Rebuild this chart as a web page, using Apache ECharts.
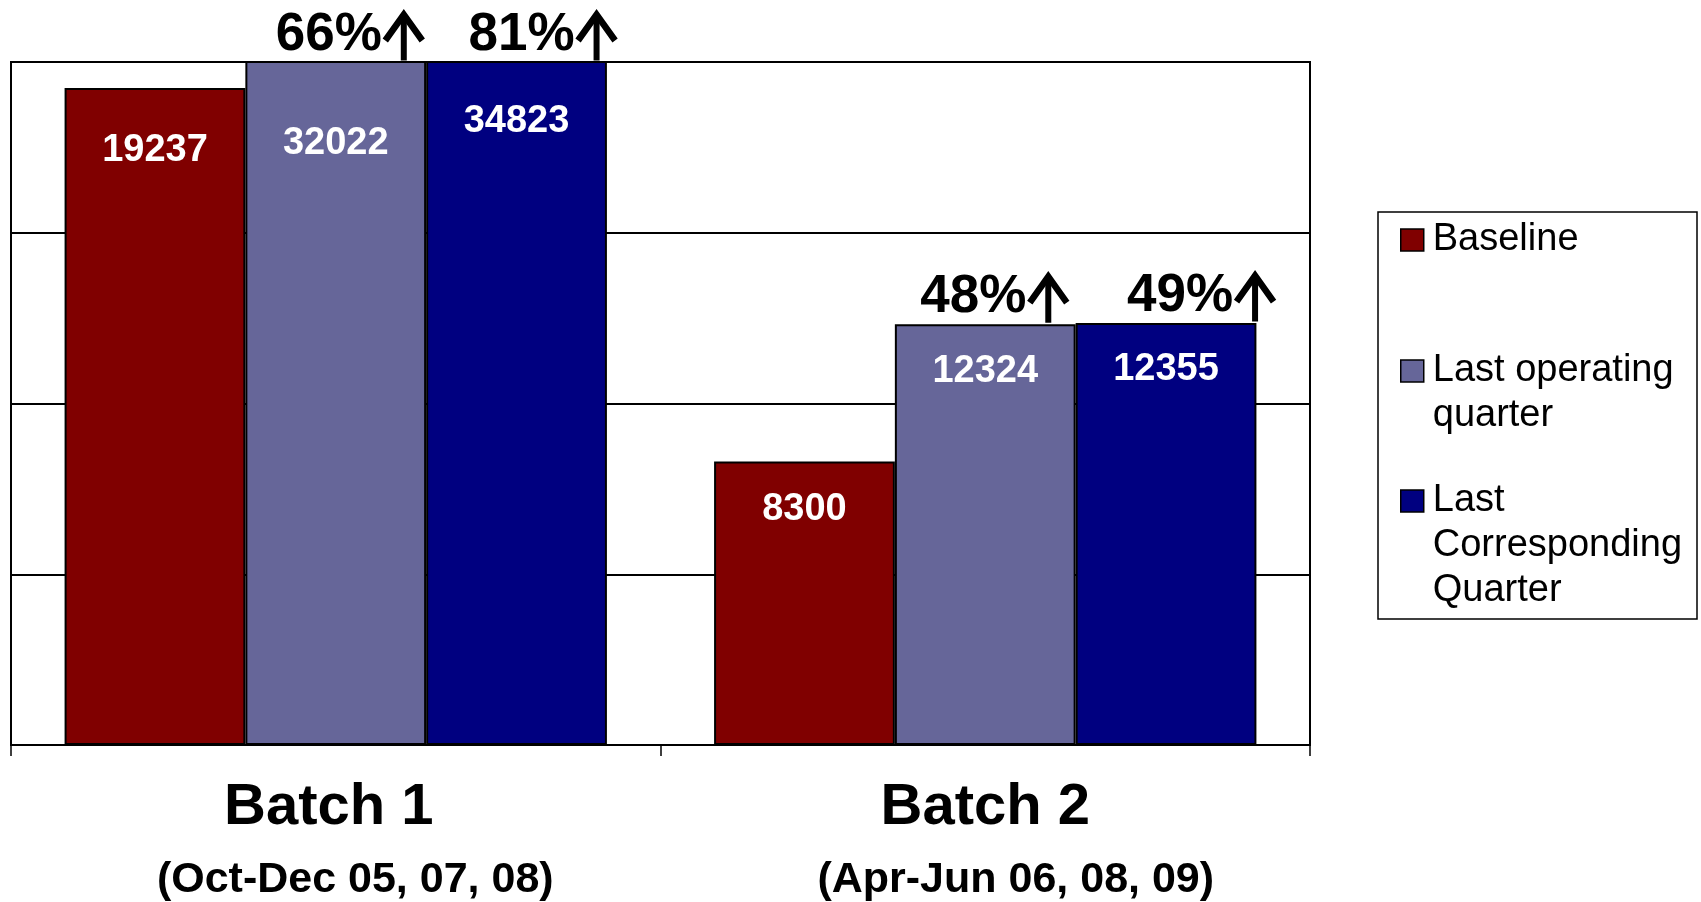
<!DOCTYPE html>
<html>
<head>
<meta charset="utf-8">
<script src="https://cdn.jsdelivr.net/npm/echarts@6/dist/echarts.min.js"></script>
<style>
  html, body { margin: 0; padding: 0; background: #fff; }
  #chart { width: 1701px; height: 902px; }
</style>
</head>
<body>
<div id="chart"></div>
<script>
// ---- data ----
var categories = ['Batch 1', 'Batch 2'];
var periods = ['(Oct-Dec 05, 07, 08)', '(Apr-Jun 06, 08, 09)'];
var seriesNames = ['Baseline', 'Last operating quarter', 'Last Corresponding Quarter'];
var baseline = [19237, 8300];
var lastOperating = [32022, 12324];
var lastCorresponding = [34823, 12355];
var growthOperating = ['66%', '48%'];
var growthCorresponding = ['81%', '49%'];

// ---- layout / style ----
var FONT = 'Liberation Sans, Arial, sans-serif';
var Y_MAX = 20000;
var colors = ['#800000', '#666699', '#000080'];
var valueLabelDistance = [[43, 29], [64, 28], [42, 27]];
var growthOffset = [null, [15, 10], [27, 36]];
var legendText = {
  'Baseline': 'Baseline',
  'Last operating quarter': 'Last operating\nquarter',
  'Last Corresponding Quarter': 'Last\nCorresponding\nQuarter'
};
// up-arrow glyph (the "↑" after each growth figure)
var arrowSvg = '<svg xmlns="http://www.w3.org/2000/svg" width="44" height="56" viewBox="0 0 44 56">' +
  '<path d="M22 7 L22 53" stroke="#000" stroke-width="6" fill="none"/>' +
  '<path d="M3.5 33 L22 7 L40.5 33" stroke="#000" stroke-width="6.5" fill="none" stroke-linejoin="miter" stroke-miterlimit="10"/>' +
  '</svg>';
var arrowImg = 'data:image/svg+xml;charset=utf-8,' + encodeURIComponent(arrowSvg);

function makeSeries(k, values, growth) {
  var s = {
    name: seriesNames[k],
    type: 'bar',
    barGap: 0,
    barCategoryGap: '16.5%',
    clip: true,
    itemStyle: { color: colors[k], borderColor: '#000', borderWidth: 2 },
    label: {
      show: true, position: 'insideTop', color: '#fff',
      fontFamily: FONT, fontSize: 38, fontWeight: 'bold', lineHeight: 38
    },
    data: values.map(function (v, i) {
      return { value: v, label: { distance: valueLabelDistance[k][i] } };
    })
  };
  if (growth) {
    s.markPoint = {
      silent: true,
      symbol: 'rect',
      symbolSize: 1,
      itemStyle: { color: 'rgba(0,0,0,0)' },
      data: growth.map(function (g, i) {
        return {
          coord: [i, Math.min(values[i], Y_MAX)],
          label: {
            show: true, position: 'top', distance: -2,
            offset: [growthOffset[k][i], 0],
            formatter: '{p|' + g + '}{a|}',
            rich: {
              p: { fontFamily: FONT, fontSize: 53, fontWeight: 'bold', color: '#000', lineHeight: 56 },
              a: { width: 44, height: 56, lineHeight: 56, backgroundColor: { image: arrowImg } }
            }
          }
        };
      })
    };
  }
  return s;
}

function makeLegend(name, top, lines) {
  var pad = '';
  for (var j = 1; j < lines; j++) { pad += ' \n'; }
  return {
    data: [name],
    left: 1400,
    top: top,
    padding: 0,
    orient: 'vertical',
    selectedMode: false,
    icon: 'rect',
    itemWidth: 23,
    itemHeight: 22,
    itemStyle: { borderColor: '#000', borderWidth: 1.5 },
    formatter: function (n) { return pad + legendText[n]; },
    textStyle: {
      fontFamily: FONT, fontSize: 38, color: '#000', lineHeight: 45,
      padding: [0, 0, 0, 4]
    }
  };
}

var catTitle = { fontFamily: FONT, fontSize: 58, fontWeight: 'bold', color: '#000', lineHeight: 73 };
var catPeriod = { fontFamily: FONT, fontSize: 43, fontWeight: 'bold', color: '#000', lineHeight: 73 };

var chart = echarts.init(document.getElementById('chart'), null, { renderer: 'canvas' });
chart.setOption({
  animation: false,
  backgroundColor: '#fff',
  textStyle: { fontFamily: FONT },
  grid: {
    left: 11, right: 391, top: 62, bottom: 155,
    show: true, borderColor: '#000', borderWidth: 2
  },
  graphic: [{
    type: 'rect', z: 0, silent: true,
    shape: { x: 1378, y: 212, width: 319, height: 407 },
    style: { fill: '#fff', stroke: '#000', lineWidth: 1.5 }
  }],
  legend: [
    makeLegend(seriesNames[0], 217.5, 1),
    makeLegend(seriesNames[1], 303.5, 2),
    makeLegend(seriesNames[2], 388.5, 3)
  ],
  xAxis: {
    type: 'category',
    data: categories,
    axisLine: { lineStyle: { color: '#000', width: 2 } },
    axisTick: { show: true, length: 11, interval: 0, lineStyle: { color: '#000', width: 1.5 } },
    axisLabel: {
      interval: 0,
      margin: 26,
      formatter: function (v, i) { return '{a' + i + '|' + v + '}\n{b' + i + '|' + periods[i] + '}'; },
      rich: {
        a0: echarts.util.extend({ padding: [0, 14, 0, 0] }, catTitle),
        a1: echarts.util.extend({}, catTitle),
        b0: echarts.util.extend({ padding: [0, 0, 0, 39] }, catPeriod),
        b1: echarts.util.extend({ padding: [0, 0, 0, 61] }, catPeriod)
      }
    }
  },
  yAxis: {
    type: 'value',
    min: 0,
    max: Y_MAX,
    interval: 5000,
    axisLabel: { show: false },
    axisLine: { show: false },
    axisTick: { show: false },
    splitLine: { show: true, lineStyle: { color: '#000', width: 2 } }
  },
  series: [
    makeSeries(0, baseline, null),
    makeSeries(1, lastOperating, growthOperating),
    makeSeries(2, lastCorresponding, growthCorresponding)
  ]
});
</script>
</body>
</html>
